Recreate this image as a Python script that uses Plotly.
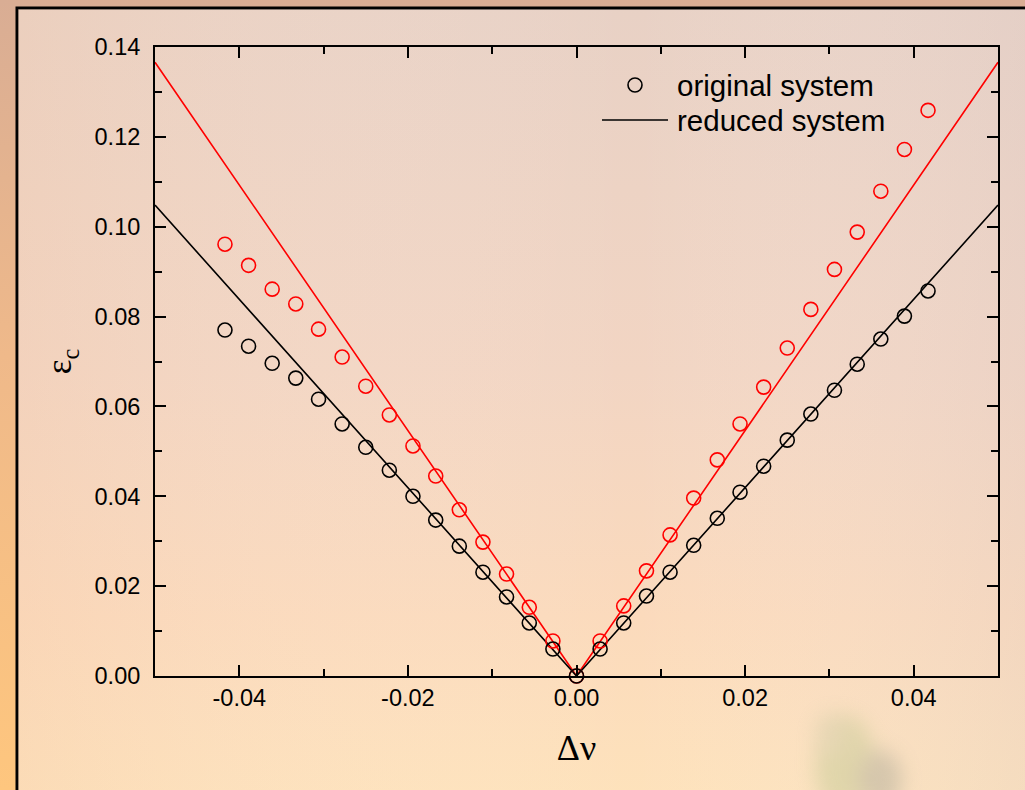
import plotly.graph_objects as go
import urllib.parse

# ---------------- data ----------------
dv_left = [-0.0417, -0.0389, -0.0361, -0.0333, -0.0306, -0.0278, -0.0250, -0.0222,
           -0.0194, -0.0167, -0.0139, -0.0111, -0.0083, -0.0056, -0.0028, 0.0]
dv_right = [0.0028, 0.0056, 0.0083, 0.0111, 0.0139, 0.0167, 0.0194, 0.0222,
            0.0250, 0.0278, 0.0306, 0.0333, 0.0361, 0.0389, 0.0417]

orig_black_left = [0.0770, 0.0734, 0.0696, 0.0663, 0.0616, 0.0561, 0.0509, 0.0458,
                   0.0400, 0.0347, 0.0289, 0.0231, 0.0176, 0.0118, 0.0060, 0.0]
orig_black_right = [0.0060, 0.0118, 0.0178, 0.0231, 0.0291, 0.0351, 0.0409, 0.0467,
                    0.0525, 0.0583, 0.0636, 0.0694, 0.0750, 0.0801, 0.0857]

orig_red_left = [0.0961, 0.0914, 0.0861, 0.0828, 0.0772, 0.0710, 0.0645, 0.0581,
                 0.0512, 0.0445, 0.0370, 0.0298, 0.0227, 0.0153, 0.0078, 0.0]
orig_red_right = [0.0078, 0.0156, 0.0234, 0.0314, 0.0396, 0.0481, 0.0561, 0.0643,
                  0.0730, 0.0816, 0.0905, 0.0988, 0.1079, 0.1172, 0.1259]

line_x = [-0.05, 0.0, 0.05]
reduced_black = [0.1048, 0.0, 0.1048]
reduced_red = [0.1366, 0.0, 0.1366]

x_tickvals = [-0.04, -0.02, 0.0, 0.02, 0.04]
x_ticktext = ["-0.04", "-0.02", "0.00", "0.02", "0.04"]
y_tickvals = [0.0, 0.02, 0.04, 0.06, 0.08, 0.10, 0.12, 0.14]
y_ticktext = ["0.00", "0.02", "0.04", "0.06", "0.08", "0.10", "0.12", "0.14"]

legend_labels = ["original system", "reduced system"]

# ---------------- layout geometry ----------------
W, H = 1025, 790
ML, MR, MT, MB = 155, 27, 47, 114
PW, PH = W - ML - MR, H - MT - MB

def px(xp):
    return (xp - ML) / PW

def py(yp):
    return (H - MB - yp) / PH

# ---------------- background (svg) ----------------
svg = f'''<svg xmlns="http://www.w3.org/2000/svg" width="{W}" height="{H}" viewBox="0 0 {W} {H}">
<defs>
<linearGradient id="outer" x1="0" y1="0" x2="0" y2="1">
<stop offset="0" stop-color="#d9ad94"/>
<stop offset="0.45" stop-color="#efb98a"/>
<stop offset="1" stop-color="#fec67e"/>
</linearGradient>
<linearGradient id="inner" x1="0" y1="0" x2="0" y2="1">
<stop offset="0" stop-color="#e8d1c5"/>
<stop offset="0.45" stop-color="#f2d5c3"/>
<stop offset="0.75" stop-color="#fbdabc"/>
<stop offset="1" stop-color="#fee3bb"/>
</linearGradient>
<linearGradient id="innerh" x1="0" y1="0" x2="1" y2="0">
<stop offset="0" stop-color="#f5c9a8" stop-opacity="0.25"/>
<stop offset="0.6" stop-color="#ffffff" stop-opacity="0"/>
<stop offset="1" stop-color="#d8c8c8" stop-opacity="0.25"/>
</linearGradient>
<filter id="blur" x="-50%" y="-50%" width="200%" height="200%"><feGaussianBlur stdDeviation="10"/></filter>
</defs>
<rect x="0" y="0" width="{W}" height="{H}" fill="url(#outer)"/>
<rect x="17" y="8" width="{W+20}" height="{H+20}" fill="url(#inner)" stroke="#000" stroke-width="3"/>
<rect x="18" y="9" width="{W}" height="{H}" fill="url(#innerh)"/>
<g filter="url(#blur)" opacity="0.4">
<ellipse cx="845" cy="765" rx="30" ry="50" fill="#b8c48a"/>
<ellipse cx="880" cy="780" rx="22" ry="30" fill="#a0a090"/>
<ellipse cx="830" cy="735" rx="15" ry="22" fill="#c8c8a0"/>
</g>
</svg>'''
svg_uri = "data:image/svg+xml;charset=utf-8," + urllib.parse.quote(svg)

fig = go.Figure()

red = "#ff0000"
blk = "#000000"

fig.add_trace(go.Scatter(x=line_x, y=reduced_red, mode="lines",
                         line=dict(color=red, width=1.6), showlegend=False, hoverinfo="skip"))
fig.add_trace(go.Scatter(x=line_x, y=reduced_black, mode="lines",
                         line=dict(color=blk, width=1.6), showlegend=False, hoverinfo="skip"))

for xs, ys, c in [(dv_left, orig_red_left, red), (dv_right, orig_red_right, red),
                  (dv_left, orig_black_left, blk), (dv_right, orig_black_right, blk)]:
    fig.add_trace(go.Scatter(x=xs, y=ys, mode="markers", cliponaxis=False,
                             marker=dict(symbol="circle-open", size=14, color=c,
                                         line=dict(width=1.6, color=c)),
                             showlegend=False))

axis_common = dict(showline=True, linecolor="black", linewidth=2, mirror="ticks",
                   ticks="inside", ticklen=11, tickwidth=2, tickcolor="black",
                   showgrid=False, zeroline=False,
                   tickfont=dict(family="Liberation Sans, Arial, sans-serif", size=23.5, color="black"))

fig.update_xaxes(range=[-0.05, 0.05], tickmode="array", tickvals=x_tickvals, ticktext=x_ticktext,
                 minor=dict(ticks="inside", dtick=0.01, ticklen=7, tickwidth=2, tickcolor="black",
                            showgrid=False),
                 ticklabelstandoff=0,
                 title=dict(text="Δν", font=dict(family="Liberation Serif, Times New Roman, serif",
                                                  size=36, color="black"), standoff=25),
                 **axis_common)
fig.update_yaxes(range=[0, 0.14], tickmode="array", tickvals=y_tickvals, ticktext=y_ticktext,
                 minor=dict(ticks="inside", dtick=0.01, ticklen=7, tickwidth=2, tickcolor="black",
                            showgrid=False),
                 ticklabelstandoff=8,
                 title=dict(text="ε<sub>c</sub>", font=dict(family="Liberation Serif, Times New Roman, serif",
                                                             size=35, color="black"), standoff=12),
                 **axis_common)

# manual legend
fig.add_shape(type="circle", xref="paper", yref="paper",
              x0=px(628), x1=px(642), y0=py(92), y1=py(78),
              line=dict(color=blk, width=1.6))
fig.add_shape(type="line", xref="paper", yref="paper",
              x0=px(602), x1=px(668), y0=py(120), y1=py(120),
              line=dict(color=blk, width=1.6))
for lab, yy in zip(legend_labels, [85, 120]):
    fig.add_annotation(x=px(675), y=py(yy), xref="paper", yref="paper", text=lab,
                       showarrow=False, xanchor="left", yanchor="middle",
                       font=dict(family="Liberation Sans, Arial, sans-serif", size=29.5, color="black"))

fig.add_layout_image(dict(source=svg_uri, xref="paper", yref="paper",
                          x=-ML / PW, y=1 + MT / PH, sizex=W / PW, sizey=H / PH,
                          xanchor="left", yanchor="top", sizing="stretch", layer="below"))

fig.update_layout(width=W, height=H, margin=dict(l=ML, r=MR, t=MT, b=MB, autoexpand=False),
                  paper_bgcolor="rgba(0,0,0,0)", plot_bgcolor="rgba(0,0,0,0)",
                  showlegend=False)

fig.write_html("out.html", config={"displayModeBar": False},
               post_script="document.body.style.margin='0';document.body.style.overflow='hidden';")
